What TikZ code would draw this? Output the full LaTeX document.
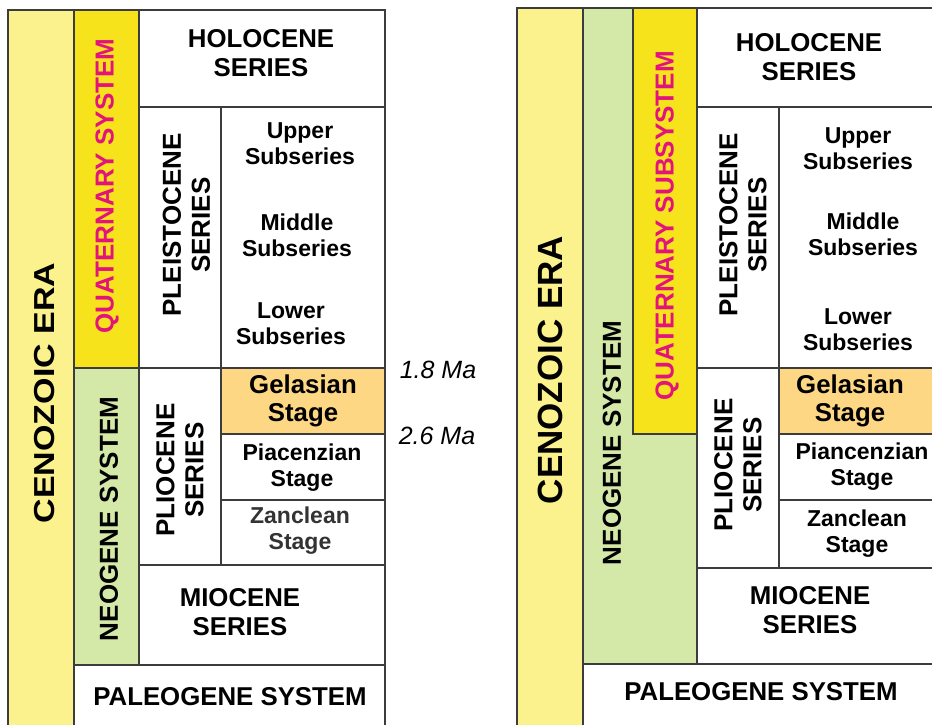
\documentclass[tikz,border=0pt]{standalone}
\usepackage{fontspec}
\setmainfont{Liberation Sans}
\definecolor{eraY}{HTML}{FBF18D}
\definecolor{quatY}{HTML}{F7E31B}
\definecolor{neoG}{HTML}{D4E8A8}
\definecolor{gelO}{HTML}{FDD783}
\definecolor{magT}{HTML}{E3137E}
\definecolor{lineC}{HTML}{3C3C3C}
\begin{document}
\begin{tikzpicture}[x=1pt,y=-1pt,
  frame/.style={draw=lineC, line width=1.3pt},
  hlab/.style={font=\fontsize{25.8}{28.5}\selectfont\bfseries, align=center, inner sep=0pt},
  slab/.style={font=\fontsize{23}{26}\selectfont\bfseries, align=center, inner sep=0pt},
  vlab/.style={font=\fontsize{26}{29}\selectfont\bfseries, align=center, inner sep=0pt, rotate=90},
  malab/.style={font=\fontsize{25}{28}\selectfont\itshape, inner sep=0pt}]
\clip (0,0) rectangle (932,725);
\fill[white] (0,0) rectangle (932,725);
% ---------- left chart ----------
\filldraw[frame, fill=eraY] (8,10) rectangle (74,740);
\filldraw[frame, fill=quatY] (74,10) rectangle (139,368);
\filldraw[frame, fill=neoG] (74,368) rectangle (139,665);
\filldraw[frame, fill=white] (74,665) rectangle (385,740);
\draw[frame] (139,10) rectangle (385,107);
\draw[frame] (139,107) rectangle (221,368);
\draw[frame] (221,107) rectangle (385,368);
\filldraw[frame, fill=gelO] (221,368) rectangle (385,434);
\draw[frame] (139,368) rectangle (221,565);
\draw[frame] (221,434) rectangle (385,500);
\draw[frame] (221,500) rectangle (385,565);
\draw[frame] (139,565) rectangle (385,665);
\node[hlab] (lhol) at (261,53) {HOLOCENE\\SERIES};
\node[slab] (lupp) at (300,144) {Upper\\Subseries};
\node[slab] (lmid) at (297,235) {Middle\\Subseries};
\node[slab] (llow) at (291,324) {Lower\\Subseries};
\node[hlab] (lgel) at (303,401) {Gelasian\\Stage};
\node[slab] (lpia) at (302,468) {Piacenzian\\Stage};
\node[slab, text=black!80] (lzan) at (300,531) {Zanclean\\Stage};
\node[hlab] (lmio) at (240,612) {MIOCENE\\SERIES};
\node[hlab] (lpal) at (230,697) {PALEOGENE SYSTEM};
\node[vlab] (lple) at (186.5,225) {PLEISTOCENE\\SERIES};
\node[vlab] (lpli) at (180,470) {PLIOCENE\\SERIES};
\node[vlab, text=magT] (lqua) at (107,186) {QUATERNARY SYSTEM};
\node[vlab] (lneo) at (109,519) {NEOGENE SYSTEM};
\node[vlab] (lcen) at (45,393) {\fontsize{34}{34}\selectfont\scalebox{1}[0.85]{CENOZOIC ERA}};
\node[malab] (ma18) at (438,370) {1.8 Ma};
\node[malab] (ma26) at (437,436) {2.6 Ma};
% ---------- right chart ----------
\filldraw[frame, fill=eraY] (517,8) rectangle (583,740);
\filldraw[frame, fill=neoG] (583,8) -- (633,8) -- (633,434) -- (697,434) -- (697,664) -- (583,664) -- cycle;
\filldraw[frame, fill=quatY] (633,8) rectangle (697,434);
\draw[frame] (583,664) rectangle (950,740);
\draw[frame] (697,8) rectangle (950,107);
\draw[frame] (697,107) rectangle (779,368);
\draw[frame] (779,107) rectangle (950,368);
\filldraw[frame, fill=gelO] (779,368) rectangle (950,434);
\draw[frame] (697,368) rectangle (779,568);
\draw[frame] (779,434) rectangle (950,500);
\draw[frame] (779,500) rectangle (950,568);
\draw[frame] (697,568) rectangle (950,664);
\node[hlab] (rhol) at (809,57) {HOLOCENE\\SERIES};
\node[slab] (rupp) at (858,149) {Upper\\Subseries};
\node[slab] (rmid) at (863,234) {Middle\\Subseries};
\node[slab] (rlow) at (858,330) {Lower\\Subseries};
\node[hlab] (rgel) at (850,401) {Gelasian\\Stage};
\node[slab] (rpia) at (862,467) {Piancenzian\\Stage};
\node[slab] (rzan) at (857,534) {Zanclean\\Stage};
\node[hlab] (rmio) at (810,610) {MIOCENE\\SERIES};
\node[hlab] (rpal) at (761,692) {PALEOGENE SYSTEM};
\node[vlab] (rple) at (743,225) {PLEISTOCENE\\SERIES};
\node[vlab] (rpli) at (738,465) {PLIOCENE\\SERIES};
\node[vlab, text=magT] (rqua) at (667,226) {QUATERNARY SUBSYSTEM};
\node[vlab] (rneo) at (612,443) {NEOGENE SYSTEM};
\node[vlab] (rcen) at (550,370) {\fontsize{35}{35}\selectfont CENOZOIC ERA};
\end{tikzpicture}
\end{document}
